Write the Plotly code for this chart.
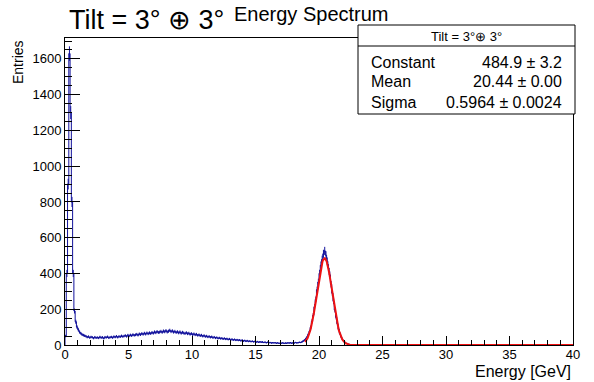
import math
import plotly.graph_objects as go

# ---- data ----
bin_width = 0.1          # GeV
x_min, x_max = 0.0, 40.0

# counts per 0.1 GeV bin, starting at 0.0 GeV
counts_low = [50, 400, 900, 1630, 1300, 800, 400, 190, 130, 100, 85, 72, 65, 58, 55, 52]
counts_cont = [
    49, 44, 47, 41, 45, 43, 38, 44, 40, 42,
    39, 45, 41, 43, 37, 44, 42, 46, 40, 43,
    45, 41, 47, 44, 49, 43, 48, 46, 51, 47,
    50, 53, 48, 55, 51, 56, 52, 58, 54, 57,
    60, 55, 62, 58, 64, 60, 66, 61, 67, 63,
    68, 64, 70, 66, 73, 69, 75, 70, 72, 76,
    71, 78, 74, 80, 73, 77, 82, 75, 79, 72,
    76, 70, 74, 68, 73, 66, 71, 67, 64, 69,
    63, 66, 60, 64, 58, 62, 57, 60, 54, 57,
    52, 55, 49, 53, 47, 50, 45, 48, 43, 46,
    41, 44, 39, 42, 37, 40, 36, 38, 34, 37,
    33, 35, 31, 34, 29, 32, 28, 31, 27, 29,
    26, 28, 24, 27, 22, 25, 21, 24, 20, 22,
    19, 21, 18, 20, 16, 19, 15, 18, 16, 17,
    14, 16, 13, 15, 12, 14, 11, 13, 12, 13,
    10, 12, 9, 11, 10, 12, 9, 11, 10, 12,
    11, 13, 10, 12, 11, 14, 12, 13, 15, 14,
]
counts_peak = [17, 22, 27, 34, 44, 58, 76, 99, 132, 166, 214, 255, 309, 352, 401,
               446, 478, 510, 526, 502, 468, 431, 392, 340, 290, 244, 196, 155, 119,
               88, 64, 45, 31, 21, 14, 9, 6, 4, 3, 2, 1, 1]
n_bins = 400
counts = counts_low + counts_cont + counts_peak
counts = counts + [0] * (n_bins - len(counts))

# Gaussian fit parameters (from the stats box)
fit_constant = 484.9
fit_mean = 20.44
fit_sigma = 0.5964
fit_range = [18.9, 40.0]

stat_names = ["Constant", "Mean", "Sigma"]
stat_values = ["484.9 \u00b1 3.2", "20.44 \u00b1 0.00", "0.5964 \u00b1 0.0024"]
stat_header = "Tilt = 3\u00b0\u2295 3\u00b0"

title_left = "Tilt = 3\u00b0 \u2295 3\u00b0"
title_main = "Energy Spectrum"
x_title = "Energy [GeV]"
y_title = "Entries"

# ---- build traces ----
edges = [x_min + i * bin_width for i in range(n_bins + 1)]
centers = [x_min + (i + 0.5) * bin_width for i in range(n_bins)]
hx = [edges[0]] + edges
hy = [0] + counts + [counts[-1]]

blue = "#12129c"
red = "#ee1111"

fig = go.Figure()
fig.add_trace(go.Scatter(x=hx, y=hy, mode="lines", line=dict(color=blue, width=1, shape="hv"),
                         hoverinfo="skip"))
fig.add_trace(go.Scatter(x=centers, y=counts, mode="markers", marker=dict(size=1, color=blue),
                         error_y=dict(type="data", array=[math.sqrt(c) for c in counts],
                                      color=blue, thickness=1, width=0),
                         hoverinfo="skip"))

n_fit = 600
fx = [fit_range[0] + (fit_range[1] - fit_range[0]) * i / (n_fit - 1) for i in range(n_fit)]
fy = [fit_constant * math.exp(-0.5 * ((x - fit_mean) / fit_sigma) ** 2) for x in fx]
fig.add_trace(go.Scatter(x=fx, y=fy, mode="lines", line=dict(color=red, width=2),
                         hoverinfo="skip"))

font_family = "Liberation Sans, Arial, Helvetica, sans-serif"

fig.update_layout(
    width=594, height=382,
    margin=dict(l=65, r=21, t=38, b=37),
    paper_bgcolor="white", plot_bgcolor="white",
    showlegend=False,
    font=dict(family=font_family, color="black", size=13),
    xaxis=dict(range=[x_min, x_max], showgrid=False, zeroline=False,
               showline=True, mirror=True, linecolor="black", linewidth=1,
               ticks="inside", ticklen=9, tickcolor="black", tickwidth=1,
               tick0=0, dtick=5, tickfont=dict(size=13), ticklabelstandoff=-3,
               minor=dict(ticks="inside", ticklen=5, dtick=1, tickcolor="black", showgrid=False)),
    yaxis=dict(range=[0, 1717], showgrid=False, zeroline=False,
               showline=True, mirror=True, linecolor="black", linewidth=1,
               ticks="inside", ticklen=15, tickcolor="black", tickwidth=1,
               tick0=0, dtick=200, tickfont=dict(size=13),
               minor=dict(ticks="inside", ticklen=7, dtick=50, tickcolor="black", showgrid=False)),
)

ph = 382 - 38 - 37
pw = 594 - 65 - 21

def px(xpix):
    return (xpix - 65) / pw

def py(ypix):
    return (382 - 37 - ypix) / ph

annotations = [
    dict(text=title_left, x=px(67), y=py(20), xref="paper", yref="paper",
         xanchor="left", yanchor="middle", showarrow=False, font=dict(size=27)),
    dict(text=title_main, x=px(311), y=py(14), xref="paper", yref="paper",
         xanchor="center", yanchor="middle", showarrow=False, font=dict(size=20)),
    dict(text=x_title, x=1.0, y=py(371), xref="paper", yref="paper",
         xanchor="right", yanchor="middle", showarrow=False, font=dict(size=16)),
    dict(text=y_title, x=px(18), y=py(38), xref="paper", yref="paper",
         xanchor="center", yanchor="top", textangle=-90, showarrow=False, font=dict(size=14)),
    dict(text=stat_header, x=px(466.5), y=py(36), xref="paper", yref="paper",
         xanchor="center", yanchor="middle", showarrow=False, font=dict(size=13)),
]
row_y = [62, 82, 102]
for name, val, yy in zip(stat_names, stat_values, row_y):
    annotations.append(dict(text=name, x=px(369), y=py(yy), xref="paper", yref="paper",
                            xanchor="left", yanchor="middle", showarrow=False, font=dict(size=16)))
    annotations.append(dict(text=val, x=px(564), y=py(yy), xref="paper", yref="paper",
                            xanchor="right", yanchor="middle", showarrow=False, font=dict(size=16)))

shapes = [
    dict(type="rect", xref="paper", yref="paper", x0=px(358), x1=px(575), y0=py(114), y1=py(25),
         fillcolor="white", line=dict(color="black", width=1), layer="above"),
    dict(type="line", xref="paper", yref="paper", x0=px(358), x1=px(575), y0=py(46), y1=py(46),
         line=dict(color="black", width=1), layer="above"),
]

fig.update_layout(annotations=annotations, shapes=shapes)
fig.write_html("out.html")
